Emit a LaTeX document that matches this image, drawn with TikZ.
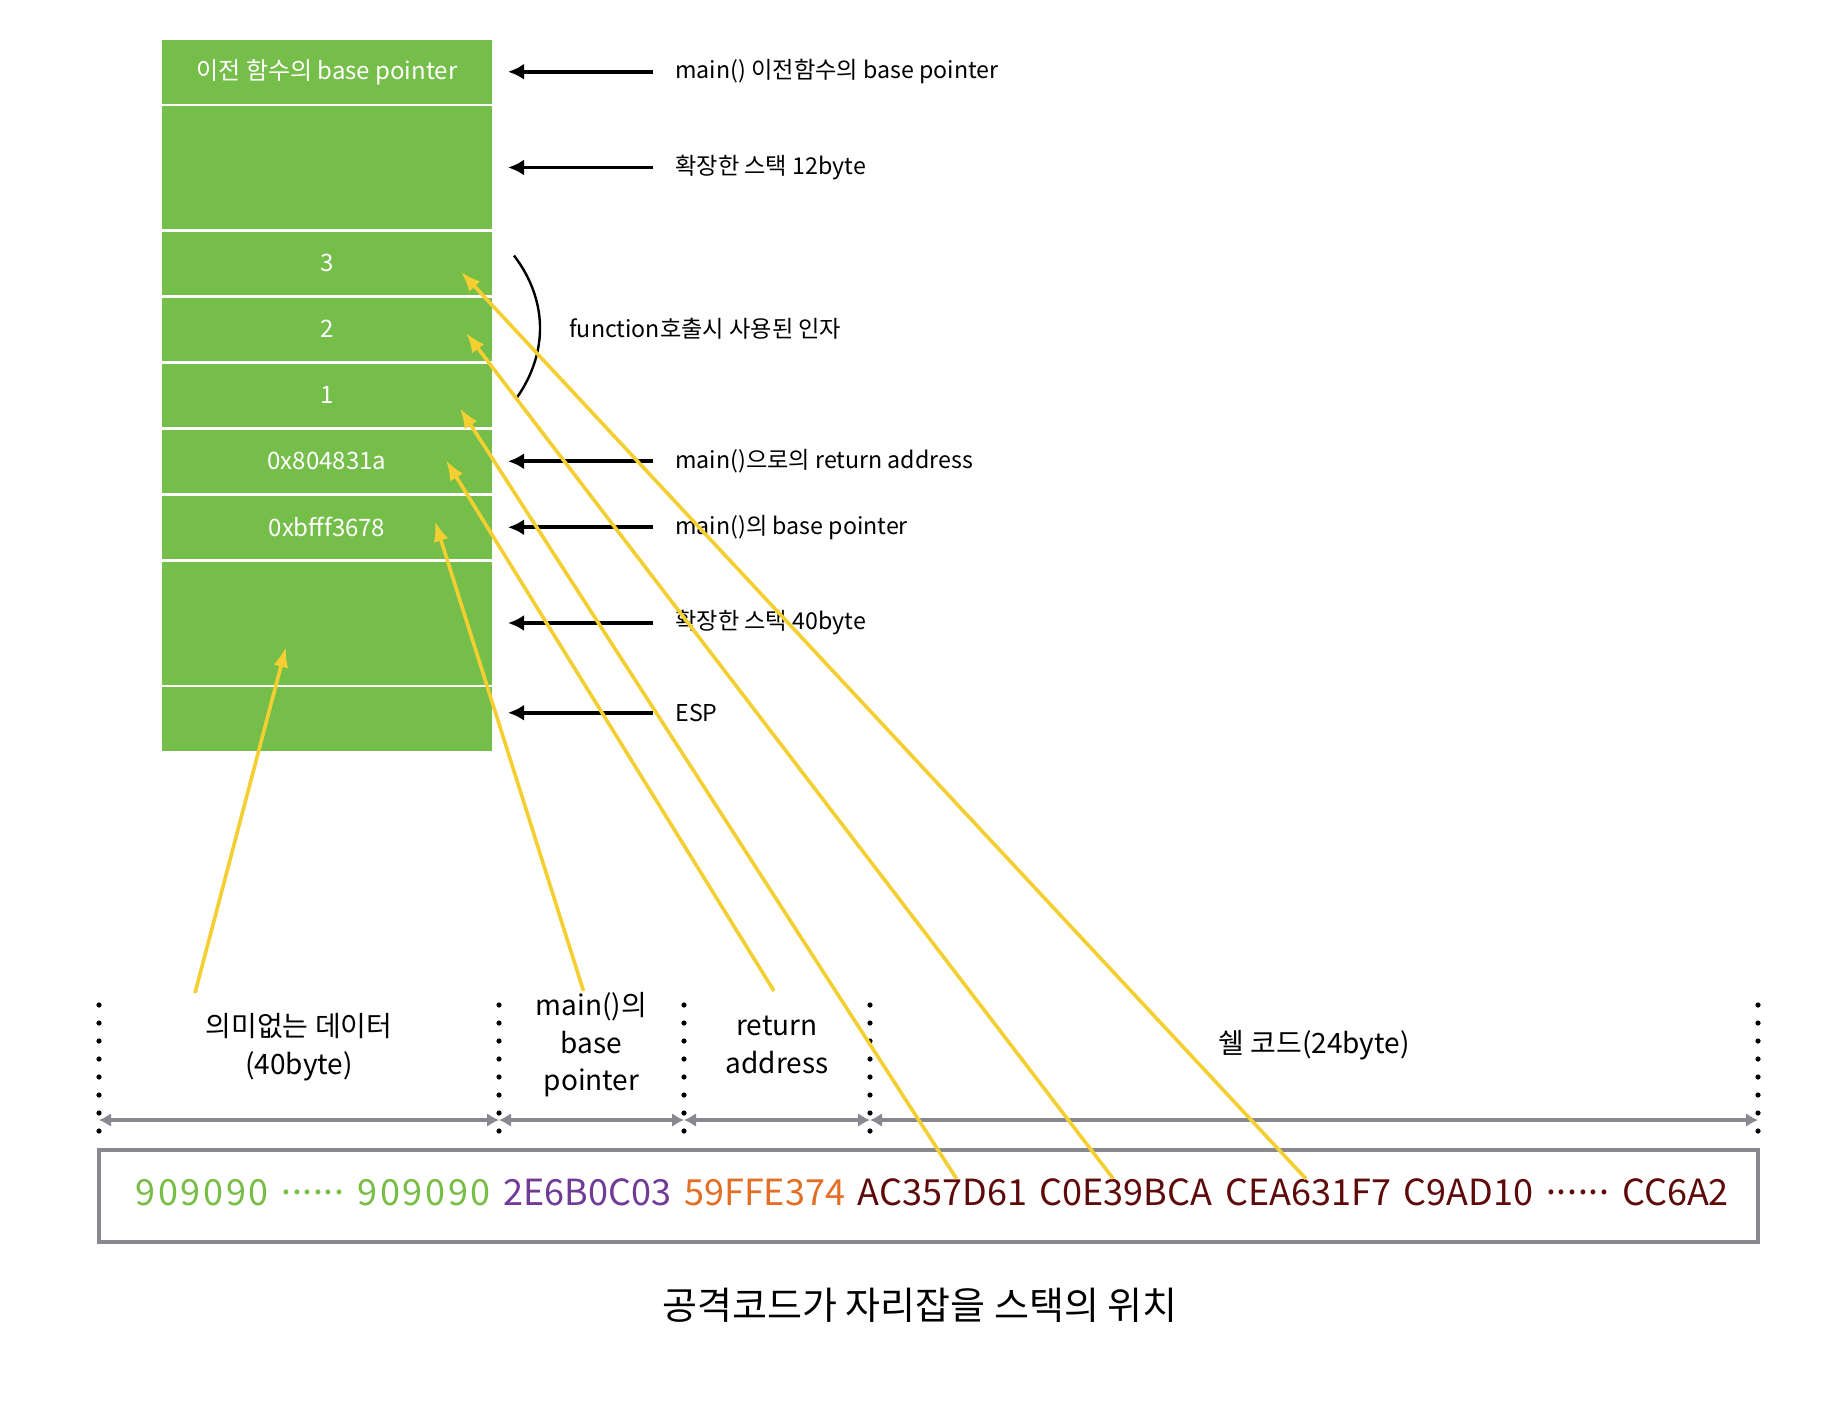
\documentclass[tikz,border=0pt]{standalone}
\usepackage{fontspec}
\setmainfont{Noto Sans CJK KR}
\usepackage{xcolor}
\usetikzlibrary{positioning,arrows.meta}

\definecolor{stackgreen}{RGB}{117,190,74}
\definecolor{hexgreen}{RGB}{120,190,70}
\definecolor{hexpurple}{RGB}{112,58,150}
\definecolor{hexorange}{RGB}{228,110,36}
\definecolor{hexred}{RGB}{95,10,10}
\definecolor{arrowyellow}{RGB}{244,207,50}
\definecolor{spangray}{RGB}{135,137,142}
\newcommand{\hexdots}{·\kern-4.8pt·\kern-4.8pt·\kern-4.8pt·\kern-4.8pt·\kern-4.8pt·}

\begin{document}
\begin{tikzpicture}[
  x=0.5pt, y=-0.5pt,
  node distance=1.25pt,
  cell/.style={fill=stackgreen, text=white, minimum width=165pt, minimum height=31.75pt,
               inner sep=0pt, outer sep=0pt, font=\fontsize{12}{14}\selectfont},
  tall/.style={minimum height=61.5pt},
  lbl/.style={font=\fontsize{11.6}{14}\selectfont, inner sep=2pt},
  blk/.style={-{Latex[length=8pt,width=8pt]}, line width=1.8pt, shorten <=9pt, shorten >=8pt},
  yarr/.style={-{Latex[length=10pt,width=7.5pt]}, line width=1.8pt, arrowyellow},
  sep/.style={line width=2.6pt, line cap=round, dash pattern=on 0pt off 9pt},
  span/.style={{Latex[length=6pt,width=7pt]}-{Latex[length=6pt,width=7pt]}, line width=2pt, spangray},
  part/.style={font=\fontsize{14}{18.8}\selectfont, align=center, inner sep=0pt},
  hexbox/.style={draw=spangray, line width=2pt, minimum width=829.5pt, minimum height=46pt},
  hex/.style={font=\fontsize{18}{22}\selectfont, inner sep=0pt, text height=13pt, text depth=4pt},
  nop/.style={hex, text=hexgreen, font=\fontsize{18}{22}\selectfont\addfontfeatures{LetterSpace=7.5}}]
  \useasboundingbox (0,0) rectangle (1844,1404);
  \fill[white] (0,0) rectangle (1844,1404);

  % stack
  \node[cell] (c1) at (327,71.75) {이전 함수의 base pointer};
  \node[cell, tall, below=of c1] (c2) {};
  \node[cell, below=of c2] (c3) {3};
  \node[cell, below=of c3] (c4) {2};
  \node[cell, below=of c4] (c5) {1};
  \node[cell, below=of c5] (c6) {0x804831a};
  \node[cell, below=of c6] (c7) {0xbfff3678};
  \node[cell, tall, below=of c7] (c8) {};
  \node[cell, below=of c8] (c9) {};

  % labels on the right
  \node[lbl, right=89.5pt of c1] (l1) {main() 이전함수의 base pointer};
  \node[lbl, right=89.5pt of c2] (l2) {확장한 스택 12byte};
  \node[lbl, right=36.5pt of c4] (args) {function호출시 사용된 인자};
  \node[lbl, right=89.5pt of c6] (l6) {main()으로의 return address};
  \node[lbl, right=89.5pt of c7] (l7) {main()의 base pointer};
  \node[lbl, right=89.5pt of c8] (l8) {확장한 스택 40byte};
  \node[lbl, anchor=west] (l9) at ([shift={(89.5pt,3pt)}]c9.east) {ESP};
  \foreach \n/\c in {l1/c1,l2/c2,l6/c6,l7/c7,l8/c8,l9/c9}
    \draw[blk] (\n.west) -- (\n.west -| \c.east);
  \draw[line width=1.2pt] ([shift={(11pt,-12pt)}]c3.north east) to[bend left=36]
    ([shift={(12.5pt,-17pt)}]c5.north east);

  % parts of the attack code
  \foreach \x [count=\i] in {99,499,684,870,1758} {
    \coordinate (s\i) at (\x,1005);
    \coordinate (a\i) at (\x,1120);
    \draw[sep] (s\i) -- ++(0,126);
  }
  \foreach \i/\j in {1/2,2/3,3/4,4/5}
    \draw[span] (a\i) -- (a\j);
  \node[part] (m1) at (299,1047) {의미없는 데이터\\(40byte)};
  \node[part] (m2) at (591.5,1045) {main()의\\base\\pointer};
  \node[part] (m3) at (777,1045) {return\\address};
  \node[part] (m4) at (1314,1045) {쉘 코드(24byte)};

  % attack code
  \node[hexbox] (box) at (928.5,1196) {};
  \node[nop, right=19pt of box.west] (w1) {909090};
  \node[hex, text=hexgreen, right=3.5pt of w1] (w2) {\hexdots};
  \node[nop, right=3.5pt of w2] (w3) {909090};
  \node[hex, text=hexpurple, right=6pt of w3] (w4) {2E6B0C03};
  \node[hex, text=hexorange, right=6pt of w4] (w5) {59FFE374};
  \node[hex, text=hexred, right=6pt of w5] (w6) {AC357D61};
  \node[hex, text=hexred, right=6pt of w6] (w7) {C0E39BCA};
  \node[hex, text=hexred, right=6pt of w7] (w8) {CEA631F7};
  \node[hex, text=hexred, right=6pt of w8] (w9) {C9AD10};
  \node[hex, text=hexred, right=3.5pt of w9] (w10) {\hexdots};
  \node[hex, text=hexred, right=3.5pt of w10] (w11) {CC6A2};

  \node[font=\fontsize{19}{22}\selectfont] (title) at (920,1305) {공격코드가 자리잡을 스택의 위치};

  % where each part lands
  \draw[yarr] ([shift={(-52pt,27pt)}]m1.center) -- ([shift={(-20.5pt,-12pt)}]c8.center);
  \draw[yarr] ([shift={(-4pt,27pt)}]m2.center) -- ([shift={(54pt,3pt)}]c7.center);
  \draw[yarr] ([shift={(-1.5pt,27pt)}]m3.center) -- ([shift={(59.5pt,0.5pt)}]c6.center);
  \draw[yarr] ([xshift=7pt]w6.north) -- ([shift={(66.5pt,-6.5pt)}]c5.center);
  \draw[yarr] ([xshift=-6.5pt]w7.north) -- ([shift={(69.5pt,-1.75pt)}]c4.center);
  \draw[yarr] ([xshift=-1.2pt]w8.north) -- ([shift={(67pt,-4.25pt)}]c3.center);
\end{tikzpicture}
\end{document}
